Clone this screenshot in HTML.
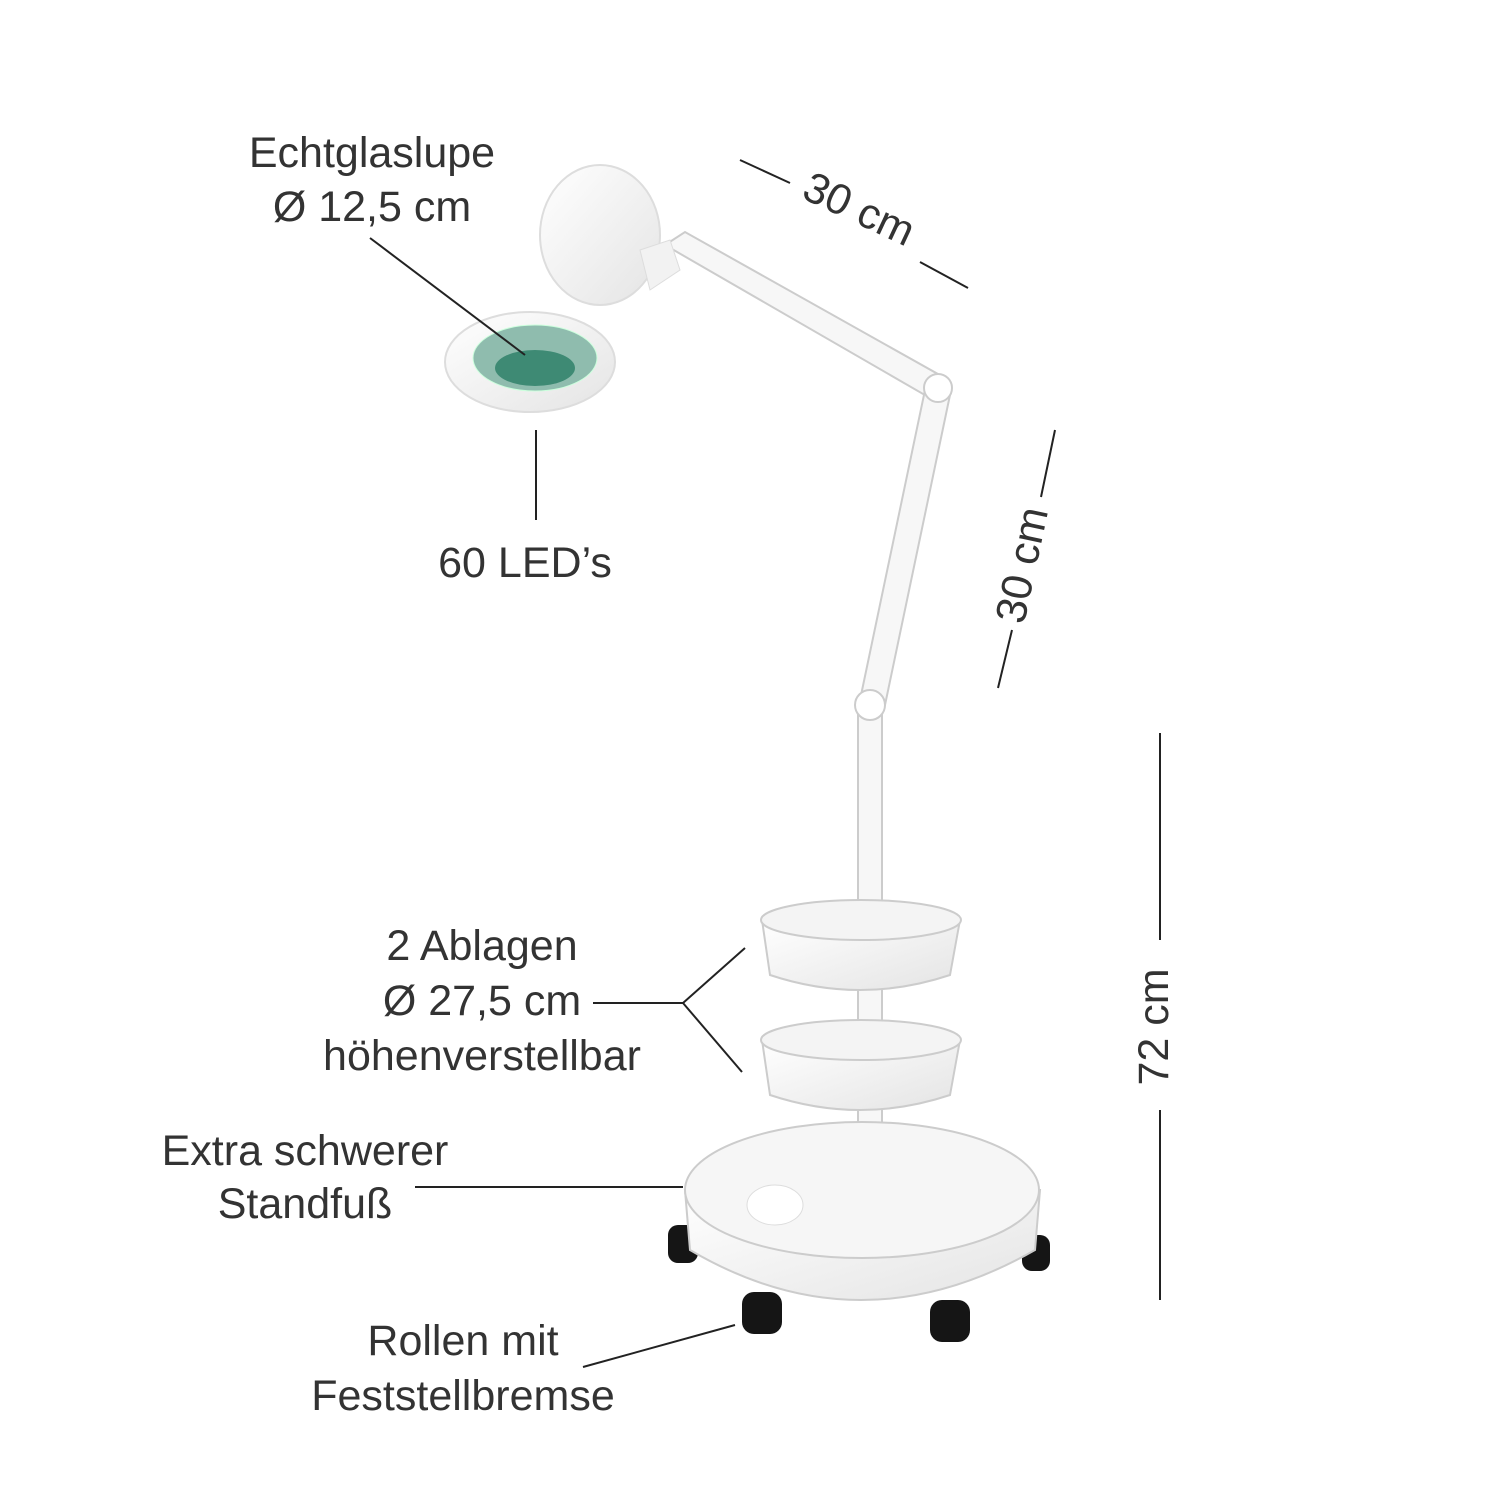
<!DOCTYPE html>
<html><head><meta charset="utf-8"><style>
html,body{margin:0;padding:0;background:#fff}
svg{display:block}
text{font-family:"Liberation Sans",sans-serif;font-size:43px;fill:#333;font-weight:normal}
</style></head><body>
<svg width="1500" height="1500" viewBox="0 0 1500 1500" xmlns="http://www.w3.org/2000/svg">
<defs>
<linearGradient id="w" x1="0" y1="0" x2="1" y2="1"><stop offset="0" stop-color="#fff"/><stop offset="1" stop-color="#e4e4e4"/></linearGradient>
</defs>
<!-- lamp arms -->
<g stroke="#ccc" stroke-width="2" fill="#f7f7f7">
<polygon points="665,245 685,232 945,378 930,398"/>
<polygon points="925,390 950,395 885,705 860,700"/>
<rect x="858" y="705" width="24" height="480"/>
</g>
<circle cx="938" cy="388" r="14" fill="#fff" stroke="#ccc" stroke-width="2"/>
<circle cx="870" cy="705" r="15" fill="#fff" stroke="#ccc" stroke-width="2"/>
<!-- lid and head -->
<ellipse cx="600" cy="235" rx="60" ry="70" fill="url(#w)" stroke="#ddd" stroke-width="2"/>
<path d="M640 250 L670 240 L680 270 L650 290 Z" fill="#f2f2f2" stroke="#ddd"/>
<ellipse cx="530" cy="362" rx="85" ry="50" fill="url(#w)" stroke="#ddd" stroke-width="2"/>
<ellipse cx="535" cy="358" rx="62" ry="33" fill="#8fbcae" stroke="#cfd"/>
<ellipse cx="535" cy="368" rx="40" ry="18" fill="#3e8a74"/>
<!-- trays -->
<g fill="url(#w)" stroke="#ccc" stroke-width="2">
<path d="M762 920 L770 975 Q860 1005 950 975 L960 920 Z"/>
<ellipse cx="861" cy="920" rx="100" ry="20" fill="#f4f4f4"/>
<path d="M762 1040 L770 1095 Q860 1125 950 1095 L960 1040 Z"/>
<ellipse cx="861" cy="1040" rx="100" ry="20" fill="#f4f4f4"/>
</g>
<!-- wheels -->
<g fill="#151515">
<rect x="668" y="1225" width="30" height="38" rx="10"/>
<rect x="1022" y="1235" width="28" height="36" rx="10"/>
<rect x="742" y="1292" width="40" height="42" rx="12"/>
<rect x="930" y="1300" width="40" height="42" rx="12"/>
</g>
<!-- base -->
<path d="M685 1190 L690 1250 Q860 1350 1035 1250 L1040 1190 Z" fill="url(#w)" stroke="#ccc" stroke-width="2"/>
<ellipse cx="862" cy="1190" rx="177" ry="68" fill="#f6f6f6" stroke="#ccc" stroke-width="2"/>
<ellipse cx="775" cy="1205" rx="28" ry="20" fill="#fff" stroke="#ddd"/>
<!-- leader lines -->
<g stroke="#222" stroke-width="2" fill="none">
<line x1="370" y1="238" x2="525" y2="355"/>
<line x1="536" y1="430" x2="536" y2="520"/>
<line x1="740" y1="160" x2="790" y2="183"/>
<line x1="920" y1="262" x2="968" y2="288"/>
<line x1="1055" y1="430" x2="1041" y2="497"/>
<line x1="1012" y1="630" x2="998" y2="688"/>
<line x1="1160" y1="733" x2="1160" y2="940"/>
<line x1="1160" y1="1110" x2="1160" y2="1300"/>
<polyline points="593,1003 683,1003 745,948"/>
<line x1="683" y1="1003" x2="742" y2="1072"/>
<line x1="415" y1="1187" x2="683" y2="1187"/>
<line x1="583" y1="1367" x2="735" y2="1325"/>
</g>
<!-- labels -->
<g text-anchor="middle">
<text x="372" y="167">Echtglaslupe</text>
<text x="372" y="221">Ø 12,5 cm</text>
<text x="525" y="577">60 LED’s</text>
<text transform="translate(853,222) rotate(25)">30 cm</text>
<text transform="translate(1036,568) rotate(-78)">30 cm</text>
<text transform="translate(1168,1027) rotate(-90)">72 cm</text>
<text x="482" y="960">2 Ablagen</text>
<text x="482" y="1015">Ø 27,5 cm</text>
<text x="482" y="1070">höhenverstellbar</text>
<text x="305" y="1165">Extra schwerer</text>
<text x="305" y="1218">Standfuß</text>
<text x="463" y="1355">Rollen mit</text>
<text x="463" y="1410">Feststellbremse</text>
</g>
</svg>
</body></html>
